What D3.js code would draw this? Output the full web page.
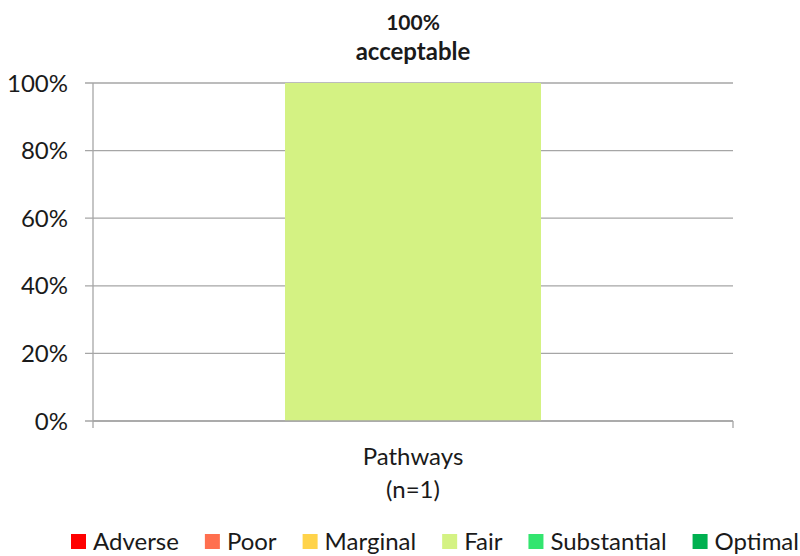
<!DOCTYPE html>
<meta charset="utf-8">
<script src="https://cdn.jsdelivr.net/npm/d3@7"></script>
<style>
  body { margin: 0; background: #fff; }
  text { font-family: Lato, "Open Sans", sans-serif; fill: #1a1a1a; }
</style>
<svg></svg>
<script>
// chart data
var categories = ["Pathways"];
var categoryN = [1];
var levels = ["Adverse", "Poor", "Marginal", "Fair", "Substantial", "Optimal"];
var levelColors = ["#ff0000", "#ff6f4f", "#ffd34a", "#d4f283", "#33e56f", "#00b050"];
// share of each level per category (percent)
var shares = {
  Adverse: [0], Poor: [0], Marginal: [0], Fair: [100], Substantial: [0], Optimal: [0]
};
var titleLines = ["100%", "acceptable"];
var titleSizes = [21, 24];
var yTicks = [0, 20, 40, 60, 80, 100];

var W = 800, H = 556;
var margin = {top: 83, right: 67, bottom: 135, left: 93};

var svg = d3.select("svg").attr("width", W).attr("height", H);

var x = d3.scaleBand()
  .domain(categories)
  .range([margin.left, W - margin.right])
  .paddingInner(0.6).paddingOuter(0.3);

var y = d3.scaleLinear()
  .domain([0, 100])
  .range([H - margin.bottom, margin.top]);

// grid
svg.append("g")
  .selectAll("line")
  .data(yTicks)
  .join("line")
  .attr("x1", margin.left - 8)
  .attr("x2", W - margin.right)
  .attr("y1", d => y(d))
  .attr("y2", d => y(d))
  .attr("stroke", "#a6a6a6")
  .attr("stroke-width", 1.3);

// stacked bars
var stack = d3.stack().keys(levels)(categories.map(function(c, i){
  var row = {cat: c};
  levels.forEach(function(l){ row[l] = shares[l][i]; });
  return row;
}));

svg.append("g")
  .selectAll("g")
  .data(stack)
  .join("g")
  .attr("fill", (d, i) => levelColors[i])
  .selectAll("rect")
  .data(d => d)
  .join("rect")
  .attr("x", d => x(d.data.cat))
  .attr("width", x.bandwidth())
  .attr("y", d => y(d[1]))
  .attr("height", d => y(d[0]) - y(d[1]));

// y axis line
svg.append("line")
  .attr("x1", margin.left).attr("x2", margin.left)
  .attr("y1", y(100)).attr("y2", y(0) + 7)
  .attr("stroke", "#a6a6a6").attr("stroke-width", 1.3);

// x axis line + end ticks
svg.append("line")
  .attr("x1", margin.left).attr("x2", W - margin.right)
  .attr("y1", y(0)).attr("y2", y(0))
  .attr("stroke", "#a6a6a6").attr("stroke-width", 1.3);
svg.append("line")
  .attr("x1", W - margin.right).attr("x2", W - margin.right)
  .attr("y1", y(0)).attr("y2", y(0) + 7)
  .attr("stroke", "#a6a6a6").attr("stroke-width", 1.3);

// y tick labels
svg.append("g")
  .selectAll("text")
  .data(yTicks)
  .join("text")
  .attr("x", margin.left - 25)
  .attr("y", d => y(d))
  .attr("dy", "0.36em")
  .attr("text-anchor", "end")
  .style("font-size", "24px")
  .text(d => d + "%");

// category labels
categories.forEach(function(c, i){
  var cx = x(c) + x.bandwidth() / 2;
  svg.append("text").attr("x", cx).attr("y", y(0) + 44)
    .attr("text-anchor", "middle").style("font-size", "24px").text(c);
  svg.append("text").attr("x", cx).attr("y", y(0) + 77)
    .attr("text-anchor", "middle").style("font-size", "24px").text("(n=" + categoryN[i] + ")");
});

// title above bar
svg.append("g")
  .selectAll("text")
  .data(titleLines)
  .join("text")
  .attr("x", x(categories[0]) + x.bandwidth() / 2)
  .attr("y", (d, i) => 30 + i * 30)
  .attr("text-anchor", "middle")
  .style("font-size", (d, i) => titleSizes[i] + "px")
  .style("font-weight", "bold")
  .text(d => d);

// legend
var legend = svg.append("g");
var lx = 71, ly = 541;
levels.forEach(function(l, i){
  legend.append("rect")
    .attr("x", lx).attr("y", ly - 7)
    .attr("width", 15).attr("height", 15)
    .attr("fill", levelColors[i]);
  var t = legend.append("text")
    .attr("x", lx + 22).attr("y", ly)
    .attr("dy", "0.36em")
    .style("font-size", "24px")
    .text(l);
  lx += 22 + t.node().getComputedTextLength() + 26;
});
</script>
